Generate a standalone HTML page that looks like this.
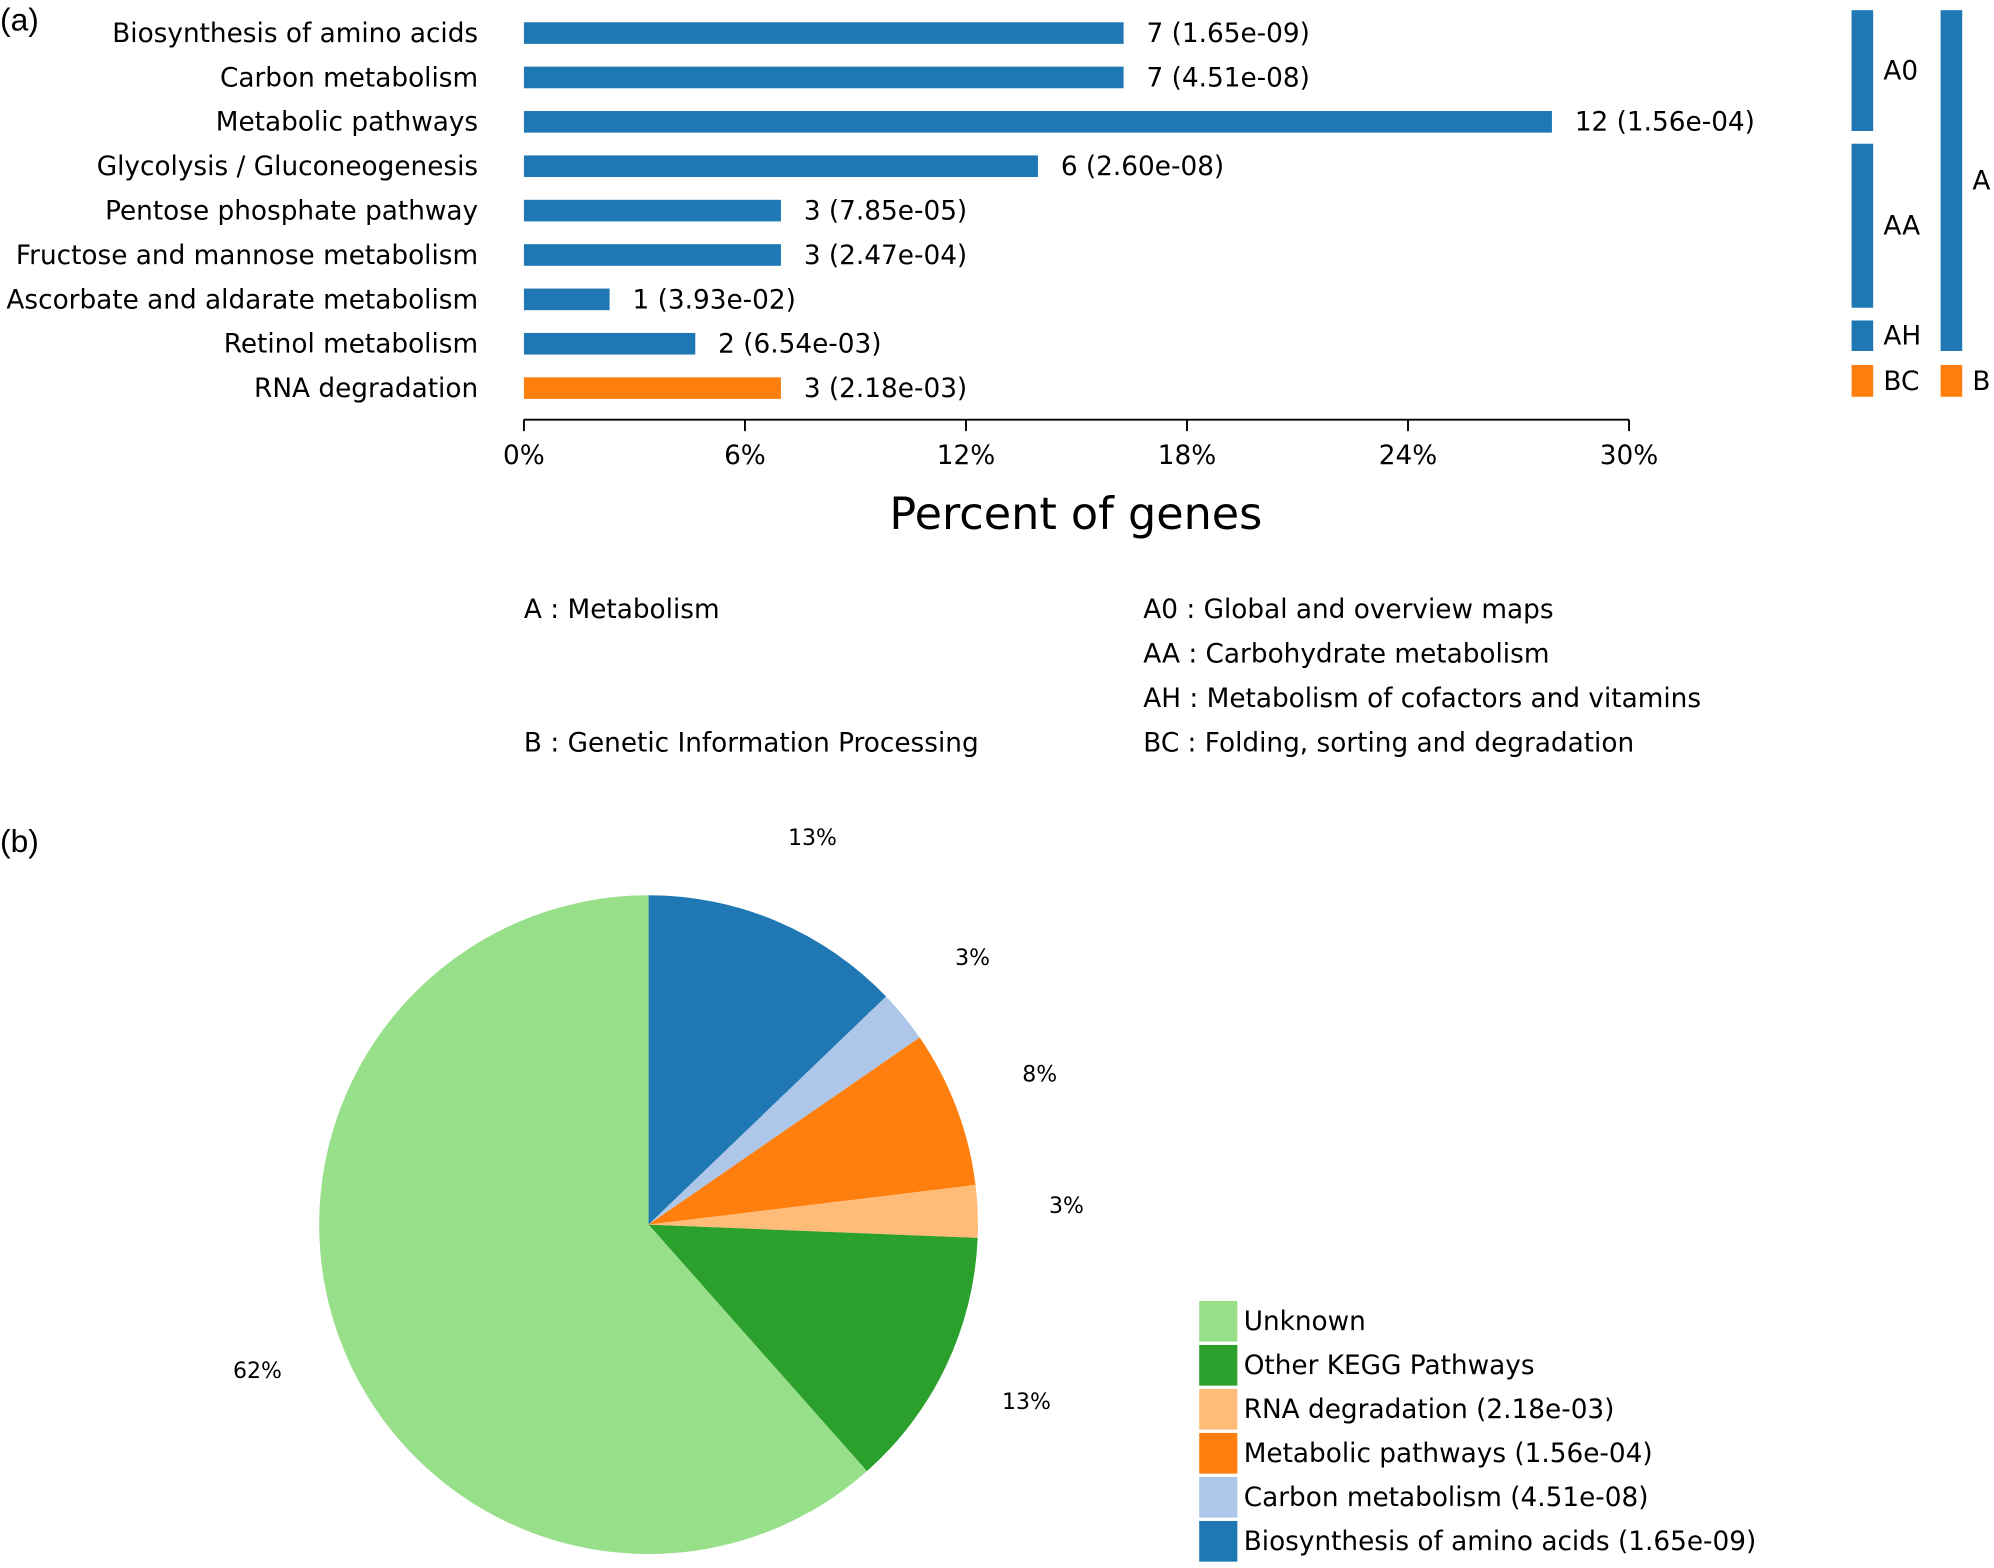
<!DOCTYPE html>
<html><head><meta charset="utf-8">
<style>
html,body{margin:0;padding:0;background:#fff;}
svg{display:block;font-family:"DejaVu Sans","Liberation Sans",sans-serif;}
</style></head>
<body>
<svg id="fig" width="1994" height="1568" viewBox="0 0 1568 1233" xmlns="http://www.w3.org/2000/svg">
<text x="0" y="24" font-family="Liberation Sans, sans-serif" font-size="25">(a)</text>
<text x="0" y="670" font-family="Liberation Sans, sans-serif" font-size="25">(b)</text>
<g id="bars"></g>
<g id="brackets"></g>
<g font-size="20.7">
<text x="412" y="486">A : Metabolism</text>
<text x="412" y="591">B : Genetic Information Processing</text>
<text x="899" y="486">A0 : Global and overview maps</text>
<text x="899" y="521">AA : Carbohydrate metabolism</text>
<text x="899" y="556">AH : Metabolism of cofactors and vitamins</text>
<text x="899" y="591">BC : Folding, sorting and degradation</text>
</g>
<g id="pie"></g>
<g id="pieLegend"></g>
</svg>
<script>
const categories=["Biosynthesis of amino acids","Carbon metabolism","Metabolic pathways","Glycolysis / Gluconeogenesis","Pentose phosphate pathway","Fructose and mannose metabolism","Ascorbate and aldarate metabolism","Retinol metabolism","RNA degradation"];
const geneCounts=[7,7,12,6,3,3,1,2,3];
const pValues=["1.65e-09","4.51e-08","1.56e-04","2.60e-08","7.85e-05","2.47e-04","3.93e-02","6.54e-03","2.18e-03"];
const barGroup=["A","A","A","A","A","A","A","A","B"];
const totalGenes=43;
const xTicks=[0,6,12,18,24,30];
const tickLabels=["0%","6%","12%","18%","24%","30%"];

const pieLabels=["Biosynthesis of amino acids (1.65e-09)","Carbon metabolism (4.51e-08)","Metabolic pathways (1.56e-04)","RNA degradation (2.18e-03)","Other KEGG Pathways","Unknown"];
const pieCounts=[5,1,3,1,5,24];
const piePctLabels=["13%","3%","8%","3%","13%","62%"];

const NS="http://www.w3.org/2000/svg";
function mk(tag,attrs,parent){const e=document.createElementNS(NS,tag);for(const k in attrs)e.setAttribute(k,attrs[k]);parent.appendChild(e);return e;}
const blue="#1f77b4",orange="#ff7f0e";
const FS=20.7;

const X0=412,X1=1281,XMAX=30;
const xs=v=>X0+(v/XMAX)*(X1-X0);
const rowY=i=>26+i*34.9;
const bars=document.getElementById('bars');
categories.forEach((c,i)=>{
  const pct=geneCounts[i]/totalGenes*100;
  const y=rowY(i);
  const r=mk('rect',{x:X0,y:y-8.5,width:xs(pct)-X0,height:17,fill:barGroup[i]==="B"?orange:blue},bars);
  
  
  const t=mk('text',{x:376,y:y+7,'text-anchor':'end','font-size':FS},bars);
  t.textContent=c;
  
  
  const v=mk('text',{x:xs(pct)+18,y:y+7,'font-size':FS},bars);
  v.textContent=geneCounts[i]+" ("+pValues[i]+")";
  
  
});
const ax=mk('line',{x1:X0,x2:X1,y1:330,y2:330,stroke:'#000','stroke-width':1.5},bars);


xTicks.forEach((t,i)=>{
  const l=mk('line',{x1:xs(t),x2:xs(t),y1:330,y2:339,stroke:'#000','stroke-width':1.5},bars);
  
  
  const tt=mk('text',{x:xs(t),y:365,'text-anchor':'middle','font-size':FS},bars);
  tt.textContent=tickLabels[i];
  
  
});
const xt=mk('text',{x:846,y:416,'text-anchor':'middle','font-size':35},bars);
xt.textContent="Percent of genes";



const br=document.getElementById('brackets');
const bk=[["A0",1456,8,103,blue],["AA",1456,113,242,blue],["AH",1456,252,276,blue],["BC",1456,287,312,orange],["A",1526,8,276,blue],["B",1526,287,312,orange]];
bk.forEach(b=>{
  const r=mk('rect',{x:b[1],y:b[2],width:17,height:b[3]-b[2],fill:b[4]},br);
  
  
  const t=mk('text',{x:b[1]+25,y:(b[2]+b[3])/2+7,'font-size':FS},br);
  t.textContent=b[0];
  
  
});

const pieColors=["#1f77b4","#aec7e8","#ff7f0e","#ffbb78","#2ca02c","#98df8a"];
const CX=510,CY=963,R=259;
const pg=document.getElementById('pie');
const tot=pieCounts.reduce((a,b)=>a+b,0);
let cum=0;
const pt=(a,r)=>[CX+r*Math.sin(a),CY-r*Math.cos(a)];
pieCounts.forEach((v,i)=>{
  const a0=cum/tot*2*Math.PI;cum+=v;const a1=cum/tot*2*Math.PI;
  const p0=pt(a0,R),p1=pt(a1,R);
  const large=(a1-a0)>Math.PI?1:0;
  const p=mk('path',{d:`M${CX},${CY} L${p0[0]},${p0[1]} A${R},${R} 0 ${large} 1 ${p1[0]},${p1[1]} Z`,fill:pieColors[i]},pg);
  
  
  const m=(a0+a1)/2;const lp=pt(m,R*1.27);
  const t=mk('text',{x:lp[0],y:lp[1]+4,'text-anchor':'middle','font-size':17.3},pg);
  t.textContent=piePctLabels[i];
  
  
});

const lg=document.getElementById('pieLegend');
for(let k=0;k<pieLabels.length;k++){
  const i=pieLabels.length-1-k;
  const y=1023+k*34.6;
  const r=mk('rect',{x:943,y:y,width:30,height:32,fill:pieColors[i]},lg);
  
  
  const t=mk('text',{x:978,y:y+23,'font-size':FS},lg);
  t.textContent=pieLabels[i];
  
  
}
</script>
</body></html>
